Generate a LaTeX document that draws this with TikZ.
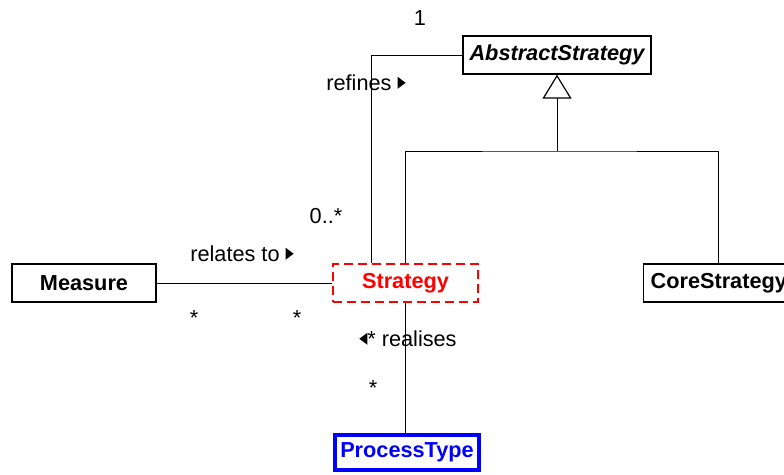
\documentclass[tikz,border=0pt]{standalone}
\usepackage{fontspec}
\setmainfont{Liberation Sans}
\usetikzlibrary{arrows.meta}
\newcommand\myrtri{\tikz[baseline=-2pt]\fill (0,0)--(0,12pt)--(8pt,6pt)--cycle;}
\newcommand\myltri{\tikz[baseline=-2pt]\fill (8pt,0)--(8pt,12pt)--(0,6pt)--cycle;}
\tikzset{
  cls/.style={draw, line width=1.3pt, inner sep=0pt, minimum height=38pt,
    font=\fontsize{21.7}{26}\selectfont\bfseries},
  lbl/.style={inner sep=0pt, font=\fontsize{21.7}{26}\selectfont},
  conn/.style={line width=1pt}
}
\begin{document}
\begin{tikzpicture}[x=1pt,y=-1pt]
\useasboundingbox (0,0) rectangle (784,474);
\node[cls, minimum width=188pt, font=\fontsize{21.7}{26}\selectfont\bfseries\itshape] (abs) at (557,55) {AbstractStrategy};
\node[cls, minimum width=144pt] (meas) at (84,283) {Measure};
\node[cls, minimum width=145pt, draw=red, text=red, line width=1.5pt, dash pattern=on 9pt off 5pt] (strat) at (405.5,283) {Strategy};
\node[cls, minimum width=150pt, anchor=west, text width=140pt, align=left, inner xsep=7pt] (core) at (643,283) {CoreStrategy};
\node[cls, minimum width=144pt, minimum height=35pt, draw={rgb,255:red,0;green,0;blue,255}, text={rgb,255:red,0;green,0;blue,255}, line width=4pt] (proc) at (407,452.5) {ProcessType};
\coordinate (j) at (557,151);
\coordinate (rc) at (371,55);
% refines
\draw[conn] (abs.west) -- (rc) -- (rc |- strat.north);
% generalization
\draw[conn, -{Triangle[open, length=24pt, width=29pt, line width=1.2pt]}] (j) -- (abs.south);
\draw[conn] (strat.north) |- (j) -| (718,264);
% relates to
\draw[conn] (meas.east) -- (strat.west);
% realises
\draw[conn] (strat.south) -- (strat.south |- proc.north);
% labels
\node[lbl] (l1) at (420,18) {1};
\node[lbl] (lref) at (366,83) {refines \myrtri};
\node[lbl] (l0) at (326,216) {0..*};
\node[lbl] (lrel) at (242,254) {relates to \myrtri};
\node[lbl] (ls1) at (194,318) {*};
\node[lbl] (ls2) at (297,318) {*};
\node[lbl] (lreal) at (408,339) {\myltri* realises};
\node[lbl] (ls3) at (373,388) {*};
\end{tikzpicture}
\end{document}
